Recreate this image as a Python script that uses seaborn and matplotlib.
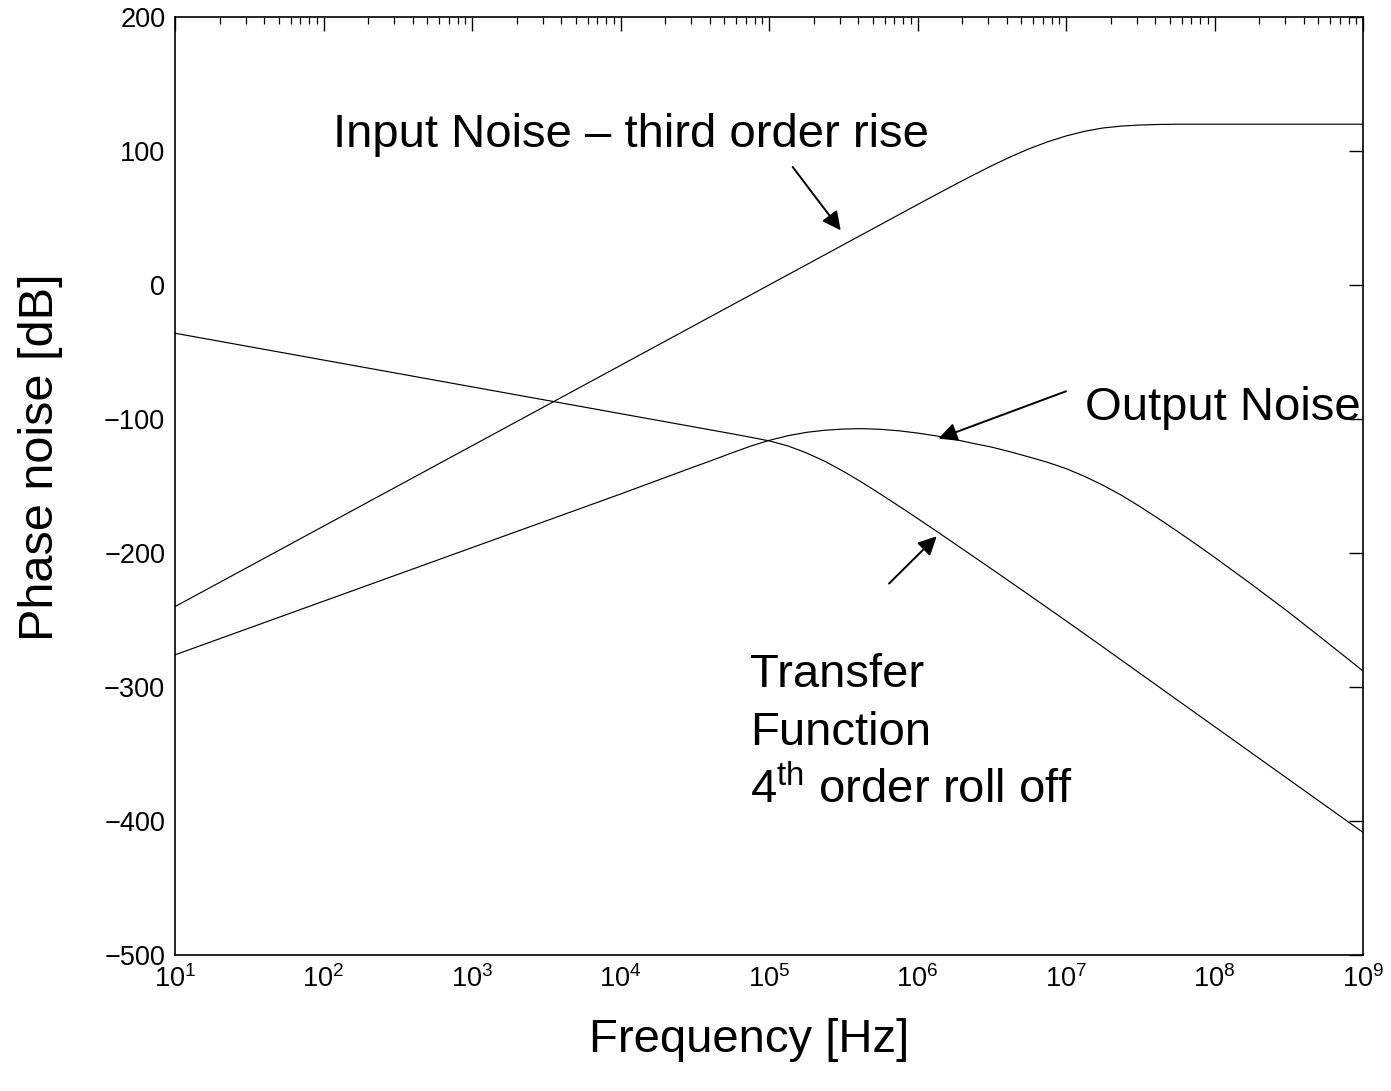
import numpy as np
import pandas as pd
import matplotlib
matplotlib.use("Agg")
import matplotlib.pyplot as plt
import matplotlib.ticker as mticker
import seaborn as sns

# ---- data (x given as log10 of frequency in Hz) ----
input_exp = [1, 2, 3, 4, 5, 5.5, 5.75, 6, 6.125, 6.25, 6.375, 6.5, 6.625, 6.75, 6.875,
             7, 7.125, 7.25, 7.375, 7.5, 7.625, 7.75, 8, 9]
input_db = [-240, -180, -120, -60, 0, 30, 45, 60, 67.45, 74.8, 82.0, 89.0, 95.6, 101.6, 106.8,
            111.2, 114.7, 117.2, 118.6, 119.4, 119.8, 120, 120, 120]

tf_exp = [1, 2, 3, 4, 4.5, 4.625, 4.75, 4.875, 5, 5.125, 5.25, 5.375, 5.5, 5.625, 5.75,
          5.875, 6, 6.125, 6.25, 6.375, 6.5, 6.625, 6.75, 6.875, 7, 7.25, 7.5, 8, 8.5, 9]
tf_db = [-36, -56, -76, -96, -106, -108.5, -111, -113.6, -116.3, -120, -125.2, -131.5, -139,
         -147.2, -156, -165, -174.2, -183.5, -193, -202.5, -212, -221.6, -231.2, -240.9,
         -250.6, -270.2, -290, -329.5, -369, -408.5]

out_exp = [1, 2, 3, 4, 4.5, 4.625, 4.75, 4.875, 5, 5.125, 5.25, 5.375, 5.5, 5.625, 5.75,
           5.875, 6, 6.125, 6.25, 6.375, 6.5, 6.625, 6.75, 6.875, 7, 7.125, 7.25, 7.375,
           7.5, 7.625, 7.75, 7.875, 8, 8.25, 8.5, 8.75, 9]
out_db = [-276, -236, -196, -156, -135.5, -130.5, -125.3, -120.3, -116, -112.5, -110, -108.4,
          -107.5, -107.2, -107.7, -108.8, -110.5, -112.6, -115.2, -118.2, -121, -124.5,
          -128.3, -132.3, -137, -142.8, -149.5, -157, -165.5, -174.5, -183.8, -193.4,
          -203.2, -223.4, -244.2, -266, -288]

ytick_vals = [-500, -400, -300, -200, -100, 0, 100, 200]
xtick_exps = list(range(1, 10))

# ---- style ----
sns.set_theme(style="white")
plt.rcParams["font.family"] = ["Liberation Sans", "DejaVu Sans"]
plt.rcParams["mathtext.fontset"] = "custom"
plt.rcParams["mathtext.rm"] = "Liberation Sans"
plt.rcParams["mathtext.it"] = "Liberation Sans"
plt.rcParams["mathtext.default"] = "regular"
plt.rcParams["text.color"] = "black"
plt.rcParams["axes.labelcolor"] = "black"
plt.rcParams["xtick.color"] = "black"
plt.rcParams["ytick.color"] = "black"

fig = plt.figure(figsize=(13.91, 10.91), dpi=100)
ax = fig.add_axes([175 / 1391, 1 - 955 / 1091, 1188 / 1391, 938 / 1091])

df_in = pd.DataFrame({"f": [10.0 ** e for e in input_exp], "db": input_db})
df_tf = pd.DataFrame({"f": [10.0 ** e for e in tf_exp], "db": tf_db})
df_out = pd.DataFrame({"f": [10.0 ** e for e in out_exp], "db": out_db})

for d in (df_in, df_tf, df_out):
    sns.lineplot(data=d, x="f", y="db", ax=ax, color="black", lw=0.85,
                 estimator=None, sort=False)

ax.set_xscale("log")
ax.set_xlim(10, 1e9)
ax.set_ylim(-500, 200)

ax.set_xticks([10.0 ** k for k in xtick_exps])
ax.set_xticklabels([f"$10^{{{k}}}$" for k in xtick_exps])
ax.xaxis.set_minor_locator(mticker.LogLocator(base=10, subs=np.arange(2, 10), numticks=100))
ax.xaxis.set_minor_formatter(mticker.NullFormatter())
ax.set_yticks(ytick_vals)
ax.set_yticklabels([f"{v}".replace("-", "\u2212") for v in ytick_vals])

ax.tick_params(axis="both", which="both", direction="in", top=True, right=True,
               colors="black", labelcolor="black")
ax.tick_params(axis="y", which="major", labelsize=19.5)
ax.tick_params(axis="x", which="major", labelsize=19.5)
ax.tick_params(axis="both", which="major", length=10, width=1.0, pad=7)
ax.tick_params(axis="x", which="minor", length=5, width=0.9)
for s in ax.spines.values():
    s.set_color("black")
    s.set_linewidth(1.2)

ax.set_xlabel("Frequency [Hz]", fontsize=34, color="black")
ax.set_ylabel("Phase noise [dB]", fontsize=35, color="black")
ax.xaxis.label.set_va("center")
ax.yaxis.label.set_va("center")
ax.xaxis.set_label_coords(0.483, -0.091)
ax.yaxis.set_label_coords(-0.1136, 0.531)


def px2data(px, py):
    return 10 ** (1 + (px - 175) / 148.5), (284.7 - py) / 1.34


arrow_kw = dict(arrowstyle="-|>", color="black", lw=1.4, mutation_scale=28,
                shrinkA=0, shrinkB=0)
txt_kw = dict(fontsize=34, va="baseline", ha="left", color="black")

# Input noise label + arrow
ax.text(*px2data(333, 147), "Input Noise \u2013 third order rise", **txt_kw)
ax.annotate("", xy=px2data(840.7, 230), xytext=px2data(792.7, 166.7), arrowprops=arrow_kw)

# Output noise label + arrow
ax.text(*px2data(1085, 420), "Output Noise", **txt_kw)
ax.annotate("", xy=px2data(938.5, 438.3), xytext=px2data(1066, 391), arrowprops=arrow_kw)

# Transfer function label + arrow
ax.text(*px2data(750, 686.7), "Transfer", **txt_kw)
ax.text(*px2data(750, 744.3), "Function", **txt_kw)
ax.text(*px2data(750, 802.7), "4$^{th}$ order roll off", **txt_kw)
ax.annotate("", xy=px2data(936.7, 536), xytext=px2data(889, 583.3), arrowprops=arrow_kw)

fig.savefig("out.png", dpi=100, facecolor="white")
